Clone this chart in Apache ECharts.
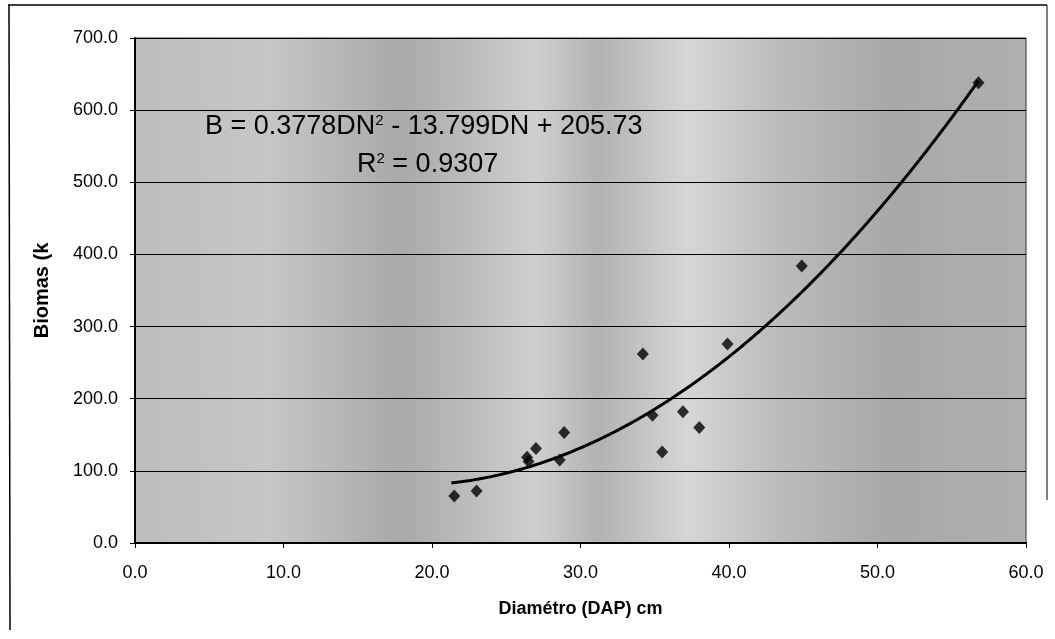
<!DOCTYPE html>
<html>
<head>
<meta charset="utf-8">
<script src="https://cdn.jsdelivr.net/npm/echarts@6/dist/echarts.min.js"></script>
<style>
  html, body { margin: 0; padding: 0; background: #fff; }
  #grafico_biomasa { width: 1055px; height: 639px; }
</style>
</head>
<body>
<div id="grafico_biomasa"></div>
<script>
// Datos medidos: diámetro (DAP, cm) y biomasa
var diametros = [21.5, 23.0, 26.4, 26.5, 27.0, 28.6, 28.9, 34.2, 34.85, 35.5, 36.9, 38.0, 39.9, 44.9, 56.8];
var biomasas  = [65, 72, 119, 113, 131, 115, 153, 262, 177, 126, 182, 160, 276, 384, 638];

// Coeficientes de la línea de tendencia (polinómica de grado 2) mostrados en el gráfico
var coefA = 0.3778;
var coefB = -13.799;
var coefC = 205.73;

var textoEcuacion = 'B = 0.3778DN{sup|2} - 13.799DN + 205.73';
var textoR2 = 'R{sup|2} = 0.9307';

var chart = echarts.init(document.getElementById('grafico_biomasa'));

var puntos = diametros.map(function (d, i) { return [d, biomasas[i]]; });

// curva de tendencia desde el menor hasta el mayor diámetro
var xMin = Math.min.apply(null, diametros) - 0.2;
var xMax = Math.max.apply(null, diametros);
var tendencia = [];
for (var x = xMin; x <= xMax + 0.001; x += 0.25) {
    tendencia.push([x, coefA * x * x + coefB * x + coefC]);
}

var fuente = 'Liberation Sans, Arial, sans-serif';
var estiloSup = { fontSize: 15, verticalAlign: 'top', padding: [0, 0, 12, 0], fill: '#000' };

var option = {
    animation: false,
    backgroundColor: '#ffffff',
    grid: {
        left: 135, right: 29, top: 38, bottom: 96,
        show: true,
        borderColor: '#333',
        borderWidth: 1,
        backgroundColor: {
            type: 'linear', x: 0, y: 0, x2: 1, y2: 0,
            colorStops: [
                { offset: 0.00, color: '#bdbdbd' },
                { offset: 0.15, color: '#c6c6c6' },
                { offset: 0.30, color: '#a9a9a9' },
                { offset: 0.45, color: '#cfcfcf' },
                { offset: 0.52, color: '#b2b2b2' },
                { offset: 0.62, color: '#d6d6d6' },
                { offset: 0.72, color: '#bcbcbc' },
                { offset: 0.85, color: '#a8a8a8' },
                { offset: 1.00, color: '#b0b0b0' }
            ]
        }
    },
    xAxis: {
        type: 'value',
        min: 0, max: 60, interval: 10,
        name: 'Diamétro (DAP) cm',
        nameLocation: 'middle',
        nameGap: 57,
        nameTextStyle: { color: '#000', fontSize: 18, fontWeight: 'bold', fontFamily: fuente },
        axisLine: { show: true, lineStyle: { color: '#000', width: 2 } },
        axisTick: { show: true, length: 5, lineStyle: { color: '#000' } },
        axisLabel: {
            color: '#000', fontSize: 18, fontFamily: fuente, margin: 21,
            formatter: function (v) { return v.toFixed(1); }
        },
        splitLine: { show: false }
    },
    yAxis: {
        type: 'value',
        min: 0, max: 700, interval: 100,
        name: 'Biomas (k',
        nameLocation: 'middle',
        nameGap: 83,
        nameRotate: 90,
        nameTextStyle: { color: '#000', fontSize: 20, fontWeight: 'bold', fontFamily: fuente },
        axisLine: { show: true, lineStyle: { color: '#000', width: 2 } },
        axisTick: { show: true, length: 5, lineStyle: { color: '#000' } },
        axisLabel: {
            color: '#000', fontSize: 18, fontFamily: fuente, margin: 17,
            formatter: function (v) { return v.toFixed(1); }
        },
        splitLine: { show: true, lineStyle: { color: '#000', width: 1 } }
    },
    series: [
        {
            name: 'Biomasa',
            type: 'scatter',
            data: puntos,
            symbol: 'diamond',
            symbolSize: [12, 13],
            itemStyle: { color: '#000' },
            z: 3
        },
        {
            name: 'Tendencia',
            type: 'line',
            data: tendencia,
            showSymbol: false,
            smooth: true,
            lineStyle: { color: '#000', width: 3 },
            z: 2
        }
    ],
    graphic: [
        // marco exterior del gráfico
        { type: 'line', shape: { x1: 8, y1: 5, x2: 1047, y2: 5 }, style: { stroke: '#000', lineWidth: 1.5 } },
        { type: 'line', shape: { x1: 9, y1: 5, x2: 10, y2: 630 }, style: { stroke: '#000', lineWidth: 1.5 } },
        { type: 'line', shape: { x1: 1047, y1: 5, x2: 1047, y2: 500 }, style: { stroke: '#000', lineWidth: 1 } },
        {
            type: 'text',
            left: 205, top: 113,
            z: 10,
            style: {
                text: textoEcuacion,
                fill: '#000',
                font: '27px ' + fuente,
                rich: { sup: estiloSup }
            }
        },
        {
            type: 'text',
            left: 357, top: 151,
            z: 10,
            style: {
                text: textoR2,
                fill: '#000',
                font: '27px ' + fuente,
                rich: { sup: estiloSup }
            }
        }
    ]
};

chart.setOption(option);
</script>
</body>
</html>
